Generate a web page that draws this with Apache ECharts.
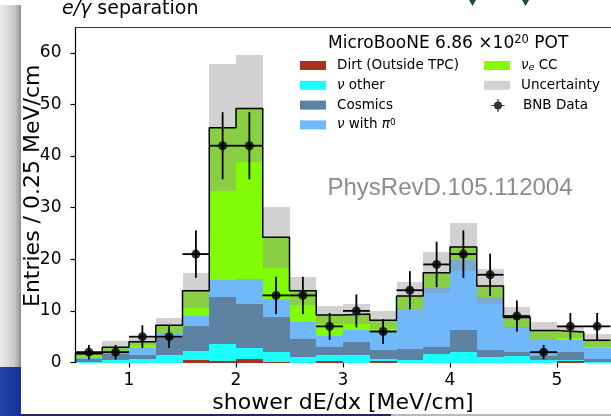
<!DOCTYPE html>
<html lang="en">
<head>
<meta charset="UTF-8">
<title>e/gamma separation</title>
<script src="https://cdn.jsdelivr.net/npm/echarts@6/dist/echarts.min.js"></script>
<style>
    html, body { margin: 0; padding: 0; background: #fff; }
    #main { width: 611px; height: 416px; }
</style>
</head>
<body>
<div id="main"></div>
<script>
    // lower bin edges [MeV/cm], bins are 0.25 wide
    var binLo = [0.5, 0.75, 1.0, 1.25, 1.5, 1.75, 2.0, 2.25, 2.5, 2.75,
                 3.0, 3.25, 3.5, 3.75, 4.0, 4.25, 4.5, 4.75, 5.0, 5.25];
    var binWidth = 0.25;

    // stacked MC predictions, bottom to top
    var dirt    = [0, 0, 0, 0, 0.4, 0.3, 0.75, 0.05, 0, 0.25, 0, 0.3, 0, 0, 0, 0, 0, 0, 0.3, 0];
    var nuOther = [0.15, 0.55, 0.7, 1.4, 1.8, 3.2, 2.05, 1.9, 1.1, 1.15, 1.4, 0.45, 0.45, 1.7, 2.05, 1.1, 1.2, 0.4, 0.25, 0.1];
    var cosmics = [0.5, 1.15, 0.7, 3.4, 4.9, 9.1, 8.6, 6.8, 3.5, 1.6, 2.6, 1.75, 2.25, 1.3, 4.15, 1.3, 0.8, 0.8, 1.5, 0.65];
    var nuPi0   = [0.4, 0.3, 1.4, 1.0, 1.9, 3.4, 4.7, 3.6, 3.2, 2.1, 2.2, 3.6, 7.4, 11.5, 13.6, 10.2, 4.8, 3.4, 2.4, 2.15];
    var nueCC   = [0.65, 0.95, 1.2, 1.4, 4.9, 29.5, 33.1, 11.9, 6.1, 4.1, 3.2, 2.1, 2.8, 2.9, 2.6, 2.2, 1.9, 1.6, 1.45, 1.4];

    // +- uncertainty on the total prediction
    var uncert  = [0.5, 1.2, 0.7, 1.5, 3.4, 12.3, 10.3, 5.9, 2.7, 1.8, 1.9, 1.8, 2.7, 4.0, 4.7, 3.4, 2.0, 1.6, 1.2, 1.3];

    // BNB data
    var bnbData = [2, 2, 5, 5, 21, 42, 42, 13, 13, 7, 10, 6, 14, 19, 21, 17, 9, 2, 7, 7];
    var bnbErr  = [1.4, 1.4, 2.2, 2.2, 4.6, 6.5, 6.5, 3.6, 3.6, 2.6, 3.2, 2.4, 3.7, 4.4, 4.6, 4.1, 3.0, 1.4, 2.6, 2.6];

    var xTicks = [1, 2, 3, 4, 5];
    var yTicks = [0, 10, 20, 30, 40, 50, 60];

    var FONT = 'DejaVu Sans';

    var layers = [
        { name: 'Dirt (Outside TPC)', values: dirt, color: '#a6321f' },
        { name: 'ν other', values: nuOther, color: '#1cfdfd' },
        { name: 'Cosmics', values: cosmics, color: '#5d82a2' },
        { name: 'ν with π0', values: nuPi0, color: '#70b8fa' },
        { name: 'νe CC', values: nueCC, color: '#82fc06' }
    ];

    function rectItem(params, api) {
        var a = api.coord([api.value(0), api.value(3)]);
        var b = api.coord([api.value(1), api.value(2)]);
        var x0 = Math.round(a[0]), x1 = Math.round(b[0]);
        var y0 = Math.round(a[1]), y1 = Math.round(b[1]);
        return {
            type: 'rect',
            shape: { x: x0, y: y0, width: x1 - x0, height: y1 - y0 },
            style: { fill: api.visual('color') }
        };
    }

    var series = [];
    var base = binLo.map(function () { return 0; });
    layers.forEach(function (l) {
        var d = binLo.map(function (x, i) {
            return [x, x + binWidth, base[i], base[i] + l.values[i]];
        });
        base = base.map(function (b, i) { return b + l.values[i]; });
        series.push({
            name: l.name,
            type: 'custom',
            renderItem: rectItem,
            encode: { x: [0, 1], y: [2, 3] },
            itemStyle: { color: l.color },
            data: d
        });
    });
    var total = base;

    series.push({
        name: 'Uncertainty',
        type: 'custom',
        renderItem: rectItem,
        encode: { x: [0, 1], y: [2, 3] },
        itemStyle: { color: 'rgba(149,149,149,0.43)' },
        data: binLo.map(function (x, i) {
            return [x, x + binWidth, total[i] - uncert[i], total[i] + uncert[i]];
        })
    });

    // total outline as a step line
    var outline = [[binLo[0], 0]];
    binLo.forEach(function (x, i) { outline.push([x, total[i]]); });
    outline.push([binLo[binLo.length - 1] + binWidth, total[total.length - 1]]);
    series.push({
        name: 'total',
        type: 'line',
        step: 'end',
        symbol: 'none',
        lineStyle: { color: '#000', width: 1.5 },
        data: outline
    });

    // data error bars
    series.push({
        name: 'bnbErr',
        type: 'custom',
        encode: { x: [0, 1], y: [3, 4] },
        renderItem: function (params, api) {
            var xm = (api.value(0) + api.value(1)) / 2;
            var l = api.coord([api.value(0), api.value(2)]);
            var r = api.coord([api.value(1), api.value(2)]);
            var lo = api.coord([xm, api.value(3)]);
            var hi = api.coord([xm, api.value(4)]);
            var st = { stroke: '#000', lineWidth: 1.8 };
            return {
                type: 'group',
                children: [
                    { type: 'line', shape: { x1: l[0], y1: l[1], x2: r[0], y2: r[1] }, style: st },
                    { type: 'line', shape: { x1: lo[0], y1: lo[1], x2: hi[0], y2: hi[1] }, style: st }
                ]
            };
        },
        data: binLo.map(function (x, i) {
            return [x, x + binWidth, bnbData[i], bnbData[i] - bnbErr[i], bnbData[i] + bnbErr[i]];
        })
    });

    series.push({
        name: 'BNB Data',
        type: 'scatter',
        symbol: 'circle',
        symbolSize: 9,
        itemStyle: { color: '#000' },
        data: binLo.map(function (x, i) { return [x + binWidth / 2, bnbData[i]]; })
    });

    function legendStyle(padLeft) {
        return {
            fontSize: 13.5, color: '#000', fontFamily: FONT, lineHeight: 14,
            padding: [0, 0, 0, padLeft],
            rich: {
                it: { fontStyle: 'italic', fontSize: 13.5, fontFamily: FONT, color: '#000', lineHeight: 14 },
                sup: { fontSize: 9, fontFamily: FONT, color: '#000', verticalAlign: 'top', lineHeight: 14 },
                sub: { fontSize: 9.5, fontStyle: 'italic', fontFamily: FONT, color: '#000', verticalAlign: 'bottom', lineHeight: 14 }
            }
        };
    }
    function legendFmt(name) {
        if (name === 'ν other') return '{it|ν} other';
        if (name === 'ν with π0') return '{it|ν} with {it|π}{sup|0}';
        if (name === 'νe CC') return '{it|ν}{sub|e} CC';
        return name;
    }

    var option = {
        animation: false,
        backgroundColor: '#fff',
        textStyle: { fontFamily: FONT },
        title: [{
            text: '{i|e/γ} separation',
            left: 62, top: 0, padding: 0,
            textStyle: {
                fontSize: 19, fontWeight: 'normal', color: '#000', fontFamily: FONT,
                rich: { i: { fontStyle: 'italic', fontSize: 19, color: '#000', fontFamily: FONT } }
            }
        }, {
            text: 'MicroBooNE 6.86 ×10{s|20} POT',
            left: 328, top: 34, padding: 0,
            textStyle: {
                fontSize: 17, fontWeight: 'normal', color: '#000', fontFamily: FONT, lineHeight: 20,
                rich: { s: { fontSize: 11.5, color: '#000', fontFamily: FONT, verticalAlign: 'top', lineHeight: 20 } }
            }
        }],
        legend: [{
            left: 300, top: 58.5, orient: 'vertical', padding: 0,
            itemWidth: 26, itemHeight: 9, itemGap: 5.8, icon: 'rect',
            selectedMode: false,
            data: ['Dirt (Outside TPC)', 'ν other', 'Cosmics', 'ν with π0'],
            formatter: legendFmt, textStyle: legendStyle(6)
        }, {
            left: 484, top: 58.5, orient: 'vertical', padding: 0,
            itemWidth: 26, itemHeight: 9, itemGap: 5.8, icon: 'rect',
            selectedMode: false,
            data: ['νe CC', 'Uncertainty'],
            formatter: legendFmt, textStyle: legendStyle(6)
        }, {
            left: 491.5, top: 98.5, orient: 'vertical', padding: 0,
            itemWidth: 13, itemHeight: 13,
            selectedMode: false,
            data: [{
                name: 'BNB Data',
                icon: 'path://M5.9,0h1.2v13h-1.2z M0,5.9h13v1.2h-13z M2.5,6.5a4,4 0 1,1 8,0a4,4 0 1,1 -8,0z'
            }],
            formatter: legendFmt, textStyle: legendStyle(13.5)
        }],
        grid: { left: 75.5, right: 0.5, top: 27, bottom: 53.5, outerBoundsMode: 'none', containLabel: false },
        xAxis: [{
            type: 'value', min: 0.5, max: 5.5, position: 'bottom',
            axisLine: { onZero: false, lineStyle: { color: '#000', width: 1.2 } },
            axisTick: { customValues: xTicks, length: 5, lineStyle: { color: '#000', width: 1.2 } },
            axisLabel: { customValues: xTicks, fontSize: 17, color: '#000', margin: 10, fontFamily: FONT },
            splitLine: { show: false },
            name: 'shower dE/dx [MeV/cm]', nameLocation: 'middle', nameGap: 30, nameMoveOverlap: false,
            nameTextStyle: { fontSize: 22, color: '#000', fontFamily: FONT }
        }, {
            type: 'value', min: 0.5, max: 5.5, position: 'top',
            axisLine: { onZero: false, lineStyle: { color: '#333', width: 1.2 } },
            axisTick: { show: false }, axisLabel: { show: false }, splitLine: { show: false }
        }],
        yAxis: {
            type: 'value', min: 0, max: 65,
            axisLine: { show: true, onZero: false, lineStyle: { color: '#000', width: 1.2 } },
            axisTick: { show: true, customValues: yTicks, length: 5, lineStyle: { color: '#000', width: 1.2 } },
            axisLabel: { customValues: yTicks, fontSize: 17, color: '#000', margin: 14, fontFamily: FONT },
            splitLine: { show: false },
            name: 'Entries / 0.25 MeV/cm', nameLocation: 'middle', nameGap: 31, nameMoveOverlap: false,
            nameTextStyle: { fontSize: 22, color: '#000', fontFamily: FONT, padding: [0, 0, 0, 18] }
        },
        graphic: [
            {
                type: 'rect', shape: { x: 0, y: 5, width: 21, height: 362 },
                style: { fill: new echarts.graphic.LinearGradient(0, 0, 1, 0, [
                    { offset: 0, color: '#ececec' }, { offset: 0.7, color: '#c8c8c8' }, { offset: 1, color: '#8e8e8e' }
                ]) }
            },
            {
                type: 'rect', shape: { x: 0, y: 367, width: 21, height: 49 },
                style: { fill: new echarts.graphic.LinearGradient(0, 0, 1, 0, [
                    { offset: 0, color: '#2444a8' }, { offset: 1, color: '#18309a' }
                ]) }
            },
            { type: 'rect', shape: { x: 21, y: 414, width: 370, height: 2 }, style: { fill: '#1c2a60' } },
            { type: 'rect', shape: { x: 391, y: 414, width: 220, height: 2 }, style: { fill: '#b8b8b8' } },
            { type: 'polygon', shape: { points: [[469, 0], [476, 0], [472.5, 6]] }, style: { fill: '#1e4a2e' } },
            { type: 'polygon', shape: { points: [[522, 0], [529, 0], [525.5, 6]] }, style: { fill: '#1e4a2e' } },
            {
                type: 'text', x: 450, y: 188, z: 100,
                style: {
                    text: 'PhysRevD.105.112004', fontSize: 24, fontFamily: 'Liberation Sans',
                    fill: '#8c8c8c', align: 'center', verticalAlign: 'middle'
                }
            }
        ],
        series: series
    };

    var chart = echarts.init(document.getElementById('main'));
    chart.setOption(option);
</script>
</body>
</html>
